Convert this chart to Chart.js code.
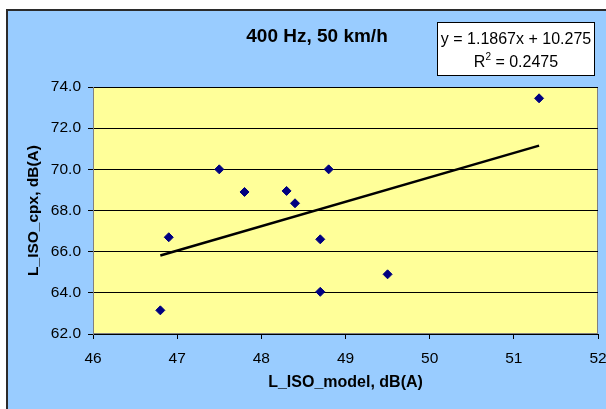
<!DOCTYPE html>
<html>
<head>
<meta charset="utf-8">
<script src="https://cdn.jsdelivr.net/npm/chart.js@4/dist/chart.umd.min.js"></script>
<style>
    html, body { margin: 0; padding: 0; background: #fff; }
    canvas { display: block; }
</style>
</head>
<body>
<canvas id="myChart" width="606" height="409"></canvas>
<script>
// measured points
const modelLevels = [46.8, 46.9, 47.5, 47.8, 48.3, 48.4, 48.8, 48.7, 48.7, 49.5, 51.3];
const cpxLevels = [63.15, 66.7, 70.0, 68.9, 68.95, 68.35, 70.0, 66.6, 64.05, 64.9, 73.45];

// linear fit shown in the box
const slope = 1.1867;
const intercept = 10.275;
const rSquared = 0.2475;

const xTicks = [46, 47, 48, 49, 50, 51, 52];
const yTicks = [62, 64, 66, 68, 70, 72, 74];

const chartTitle = "400 Hz, 50 km/h";
const xTitle = "L_ISO_model, dB(A)";
const yTitle = "L_ISO_cpx, dB(A)";

const FONT = '"Liberation Sans", Arial, sans-serif';

const points = modelLevels.map((x, i) => ({ x: x, y: cpxLevels[i] }));
const xMin = Math.min(...modelLevels);
const xMax = Math.max(...modelLevels);
const trend = [xMin, xMax].map(x => ({ x: x, y: slope * x + intercept }));

const backdrop = {
    id: 'backdrop',
    beforeDraw(chart) {
        const ctx = chart.ctx;
        const a = chart.chartArea;
        ctx.save();
        ctx.fillStyle = '#fff';
        ctx.fillRect(0, 0, chart.width, chart.height);
        // outer chart panel
        ctx.fillStyle = '#99ccff';
        ctx.fillRect(7, 10, chart.width, chart.height);
        ctx.strokeStyle = '#2b2b2b';
        ctx.lineWidth = 2;
        ctx.strokeRect(7, 10, chart.width + 10, chart.height + 10);
        // plot area
        ctx.fillStyle = '#ffff99';
        ctx.fillRect(a.left, a.top, a.right - a.left, a.bottom - a.top);
        ctx.strokeStyle = '#808080';
        ctx.lineWidth = 1;
        ctx.strokeRect(a.left + 0.5, a.top + 0.5, a.right - a.left - 1, a.bottom - a.top - 1);
        ctx.restore();
    },
    afterDraw(chart) {
        const ctx = chart.ctx;
        ctx.save();
        ctx.fillStyle = '#000';
        ctx.textBaseline = 'alphabetic';

        ctx.font = 'bold 19px ' + FONT;
        ctx.textAlign = 'center';
        ctx.fillText(chartTitle, 317, 42);

        // equation box
        ctx.fillStyle = '#fff';
        ctx.fillRect(437, 22, 158, 54);
        ctx.strokeStyle = '#000';
        ctx.lineWidth = 1;
        ctx.strokeRect(437.5, 22.5, 157, 53);

        const cx = 516;
        ctx.fillStyle = '#000';
        ctx.font = '16px ' + FONT;
        ctx.textAlign = 'center';
        ctx.fillText('y = ' + slope + 'x + ' + intercept, cx, 44);

        ctx.textAlign = 'left';
        const rest = ' = ' + rSquared;
        const wR = ctx.measureText('R').width;
        const wRest = ctx.measureText(rest).width;
        ctx.font = '10px ' + FONT;
        const wSup = ctx.measureText('2').width;
        const start = cx - (wR + wSup + wRest) / 2;
        ctx.font = '16px ' + FONT;
        ctx.fillText('R', start, 67);
        ctx.fillText(rest, start + wR + wSup, 67);
        ctx.font = '10px ' + FONT;
        ctx.fillText('2', start + wR, 60);
        ctx.restore();
    }
};

new Chart(document.getElementById('myChart').getContext('2d'), {
    type: 'scatter',
    data: {
        datasets: [{
            data: points,
            pointStyle: 'rectRot',
            pointRadius: 4.5,
            pointHoverRadius: 4.5,
            backgroundColor: '#000080',
            borderColor: '#000080',
            borderWidth: 1
        }, {
            type: 'line',
            data: trend,
            borderColor: '#000',
            borderWidth: 2.5,
            pointRadius: 0,
            fill: false,
            tension: 0
        }]
    },
    options: {
        responsive: false,
        animation: false,
        devicePixelRatio: 1,
        layout: { padding: { left: 0, top: 87, right: 8, bottom: 0 } },
        plugins: {
            legend: { display: false },
            tooltip: { enabled: false }
        },
        scales: {
            x: {
                type: 'linear',
                min: 46,
                max: 52,
                afterBuildTicks: scale => { scale.ticks = xTicks.map(v => ({ value: v })); },
                afterFit: scale => {
                    scale.height = 75;
                    scale.paddingLeft = 0;
                    scale.paddingRight = 0;
                },
                grid: {
                    drawOnChartArea: false,
                    drawTicks: true,
                    tickLength: 5,
                    color: '#000'
                },
                border: { color: '#000', width: 1 },
                ticks: {
                    color: '#000',
                    padding: 10,
                    maxRotation: 0,
                    font: { family: FONT, size: 15.5 }
                },
                title: {
                    display: true,
                    text: xTitle,
                    color: '#000',
                    padding: { top: 0, bottom: 17 },
                    font: { family: FONT, size: 16, weight: 'bold' }
                }
            },
            y: {
                type: 'linear',
                min: 62,
                max: 74,
                afterBuildTicks: scale => { scale.ticks = yTicks.map(v => ({ value: v })); },
                afterFit: scale => { scale.width = 93; },
                grid: {
                    drawOnChartArea: true,
                    drawTicks: true,
                    tickLength: 5,
                    color: '#000'
                },
                border: { color: '#808080', width: 1 },
                ticks: {
                    color: '#000',
                    padding: 7,
                    callback: v => v.toFixed(1),
                    font: { family: FONT, size: 15.5 }
                },
                title: {
                    display: true,
                    text: yTitle,
                    color: '#000',
                    padding: { top: 24, bottom: 0 },
                    font: { family: FONT, size: 15.5, weight: 'bold' }
                }
            }
        }
    },
    plugins: [backdrop]
});
</script>
</body>
</html>
